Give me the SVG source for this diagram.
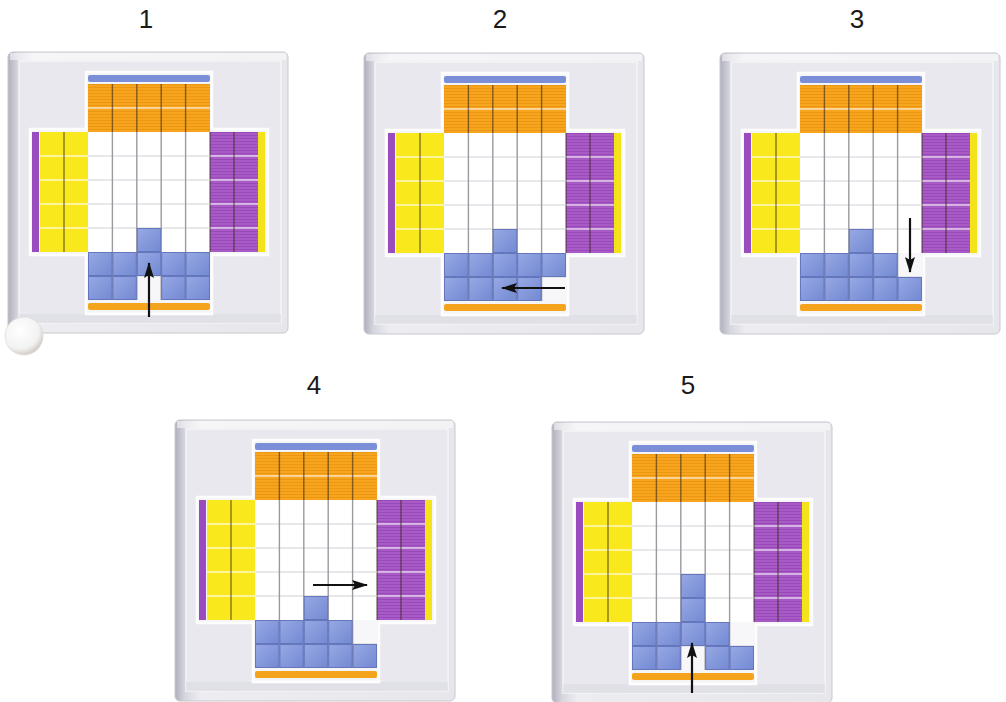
<svg xmlns="http://www.w3.org/2000/svg" xmlns:xlink="http://www.w3.org/1999/xlink" width="1006" height="702" viewBox="0 0 1006 702">
<style>
.lbl{font-family:"Liberation Sans",Arial,sans-serif;font-size:26px;fill:#1a1a1a;text-anchor:middle}
.vs{stroke:#3a2a1a;stroke-width:1.4;opacity:.6}
.hs{stroke:#ffffff;stroke-width:1.4;opacity:.75}
.vw{stroke:#9a9aa0;stroke-width:1.4}
.hw{stroke:#d2d2d6;stroke-width:1.2}
.b{fill:url(#gBlue);stroke:#6476bc;stroke-width:1}
.arr{stroke:#111;stroke-width:2.2;fill:none;marker-end:url(#head)}
</style>
<defs>
<linearGradient id="gFrame" x1="0" y1="0" x2="1" y2="0">
<stop offset="0" stop-color="#b0b0be"/><stop offset="0.035" stop-color="#d6d6de"/><stop offset="0.09" stop-color="#ececf1"/><stop offset="1" stop-color="#e6e6eb"/>
</linearGradient>
<linearGradient id="gBlue" x1="0" y1="0" x2="1" y2="1">
<stop offset="0" stop-color="#97a8e4"/><stop offset="1" stop-color="#7389d2"/>
</linearGradient>
<radialGradient id="gBall" cx="0.4" cy="0.35" r="0.7">
<stop offset="0" stop-color="#ffffff"/><stop offset="0.7" stop-color="#f2f2f2"/><stop offset="1" stop-color="#c9c2bc"/>
</radialGradient>
<pattern id="pOrange" width="4" height="3" patternUnits="userSpaceOnUse">
<rect width="4" height="3" fill="#f7a51c"/><rect y="2" width="4" height="1" fill="#eb9614"/>
</pattern>
<pattern id="pPurple" width="4" height="3" patternUnits="userSpaceOnUse">
<rect width="4" height="3" fill="#a85ac6"/><rect y="2" width="4" height="1" fill="#984ab8"/>
</pattern>
<marker id="head" viewBox="0 0 16 10" refX="15" refY="5" markerWidth="16" markerHeight="10" markerUnits="userSpaceOnUse" orient="auto">
<path d="M0,0 L16,5 L0,10 L3,5 Z" fill="#111"/>
</marker>
<g id="base">
<rect x="0" y="0" width="280" height="281" rx="5" fill="url(#gFrame)" stroke="#c8c8d0"/>
<rect x="2" y="1" width="276" height="7" fill="#ffffff" opacity="0.5"/>
<rect x="11" y="9" width="262" height="262" fill="#e8e8ee" stroke="#f5f5f8" stroke-width="1.5"/>
<rect x="11" y="262" width="262" height="9" fill="#dadae2" opacity="0.6"/>
<path d="M78,20 H204 V77 H260 V203 H204 V262 H78 V203 H22 V77 H78 Z" fill="#f5f5f8" stroke="#fdfdfe" stroke-width="2.5"/>
<rect x="80" y="23" width="122" height="7" rx="2" fill="#7b8fd8"/>
<rect x="80" y="32" width="122" height="48" fill="url(#pOrange)"/>
<rect x="24" y="80" width="7" height="120" fill="#9a4cbe"/>
<rect x="32" y="80" width="48" height="120" fill="#f9e81c"/>
<rect x="80" y="80" width="122" height="120" fill="#ffffff"/>
<rect x="202" y="80" width="48" height="120" fill="url(#pPurple)"/>
<rect x="250" y="80" width="7" height="120" fill="#f4e21a"/>
<rect x="80" y="200" width="122" height="48" fill="#f7f7fa"/>
<rect x="80" y="251" width="122" height="7" rx="2" fill="#f4a41c"/>
<path class="hs" d="M80,56 H202"/>
<path class="vs" d="M104.4,32 V80 M128.8,32 V80 M153.2,32 V80 M177.6,32 V80"/>
<path class="hs" d="M32,104 H80 M32,128 H80 M32,152 H80 M32,176 H80 M202,104 H250 M202,128 H250 M202,152 H250 M202,176 H250"/>
<path class="vs" d="M56,80 V200 M226,80 V200 M202,80 V200"/>
<path class="hw" d="M80,104 H202 M80,128 H202 M80,152 H202 M80,176 H202 M80,224 H202"/>
<path class="vw" d="M104.4,80 V248 M128.8,80 V248 M153.2,80 V248 M177.6,80 V248"/>
</g>
</defs>
<rect width="1006" height="702" fill="#ffffff"/>
<g id="labels">
<text class="lbl" x="146" y="28">1</text>
<text class="lbl" x="500" y="28">2</text>
<text class="lbl" x="857" y="28">3</text>
<text class="lbl" x="314" y="394">4</text>
<text class="lbl" x="688" y="394">5</text>
</g>
<g id="board1" transform="translate(8,52)">
<use xlink:href="#base"/>
<rect class="b" x="129.3" y="176.5" width="23.4" height="23"/>
<rect class="b" x="80.5" y="200.5" width="23.4" height="23"/>
<rect class="b" x="104.9" y="200.5" width="23.4" height="23"/>
<rect class="b" x="129.3" y="200.5" width="23.4" height="23"/>
<rect class="b" x="153.7" y="200.5" width="23.4" height="23"/>
<rect class="b" x="178.1" y="200.5" width="23.4" height="23"/>
<rect class="b" x="80.5" y="224.5" width="23.4" height="23"/>
<rect class="b" x="104.9" y="224.5" width="23.4" height="23"/>
<rect class="b" x="153.7" y="224.5" width="23.4" height="23"/>
<rect class="b" x="178.1" y="224.5" width="23.4" height="23"/>
</g>
<g id="board2" transform="translate(364,53)">
<use xlink:href="#base"/>
<rect class="b" x="129.3" y="176.5" width="23.4" height="23"/>
<rect class="b" x="80.5" y="200.5" width="23.4" height="23"/>
<rect class="b" x="104.9" y="200.5" width="23.4" height="23"/>
<rect class="b" x="129.3" y="200.5" width="23.4" height="23"/>
<rect class="b" x="153.7" y="200.5" width="23.4" height="23"/>
<rect class="b" x="178.1" y="200.5" width="23.4" height="23"/>
<rect class="b" x="80.5" y="224.5" width="23.4" height="23"/>
<rect class="b" x="104.9" y="224.5" width="23.4" height="23"/>
<rect class="b" x="129.3" y="224.5" width="23.4" height="23"/>
<rect class="b" x="153.7" y="224.5" width="23.4" height="23"/>
</g>
<g id="board3" transform="translate(720,53)">
<use xlink:href="#base"/>
<rect class="b" x="129.3" y="176.5" width="23.4" height="23"/>
<rect class="b" x="80.5" y="200.5" width="23.4" height="23"/>
<rect class="b" x="104.9" y="200.5" width="23.4" height="23"/>
<rect class="b" x="129.3" y="200.5" width="23.4" height="23"/>
<rect class="b" x="153.7" y="200.5" width="23.4" height="23"/>
<rect class="b" x="80.5" y="224.5" width="23.4" height="23"/>
<rect class="b" x="104.9" y="224.5" width="23.4" height="23"/>
<rect class="b" x="129.3" y="224.5" width="23.4" height="23"/>
<rect class="b" x="153.7" y="224.5" width="23.4" height="23"/>
<rect class="b" x="178.1" y="224.5" width="23.4" height="23"/>
</g>
<g id="board4" transform="translate(175,420)">
<use xlink:href="#base"/>
<rect class="b" x="129.3" y="176.5" width="23.4" height="23"/>
<rect class="b" x="80.5" y="200.5" width="23.4" height="23"/>
<rect class="b" x="104.9" y="200.5" width="23.4" height="23"/>
<rect class="b" x="129.3" y="200.5" width="23.4" height="23"/>
<rect class="b" x="153.7" y="200.5" width="23.4" height="23"/>
<rect class="b" x="80.5" y="224.5" width="23.4" height="23"/>
<rect class="b" x="104.9" y="224.5" width="23.4" height="23"/>
<rect class="b" x="129.3" y="224.5" width="23.4" height="23"/>
<rect class="b" x="153.7" y="224.5" width="23.4" height="23"/>
<rect class="b" x="178.1" y="224.5" width="23.4" height="23"/>
</g>
<g id="board5" transform="translate(552,422)">
<use xlink:href="#base"/>
<rect class="b" x="129.3" y="152.5" width="23.4" height="23"/>
<rect class="b" x="129.3" y="176.5" width="23.4" height="23"/>
<rect class="b" x="80.5" y="200.5" width="23.4" height="23"/>
<rect class="b" x="104.9" y="200.5" width="23.4" height="23"/>
<rect class="b" x="129.3" y="200.5" width="23.4" height="23"/>
<rect class="b" x="153.7" y="200.5" width="23.4" height="23"/>
<rect class="b" x="80.5" y="224.5" width="23.4" height="23"/>
<rect class="b" x="104.9" y="224.5" width="23.4" height="23"/>
<rect class="b" x="153.7" y="224.5" width="23.4" height="23"/>
<rect class="b" x="178.1" y="224.5" width="23.4" height="23"/>
</g>
<g id="ball">
<circle cx="24" cy="336" r="19" fill="url(#gBall)" stroke="#e0dcd8" stroke-width="0.8"/>
</g>
<g id="arrows">
<path class="arr" d="M149,317 V263"/>
<path class="arr" d="M565,288 H502"/>
<path class="arr" d="M910,218 V272"/>
<path class="arr" d="M313,585 H367"/>
<path class="arr" d="M692,693 V643"/>
</g>
</svg>
